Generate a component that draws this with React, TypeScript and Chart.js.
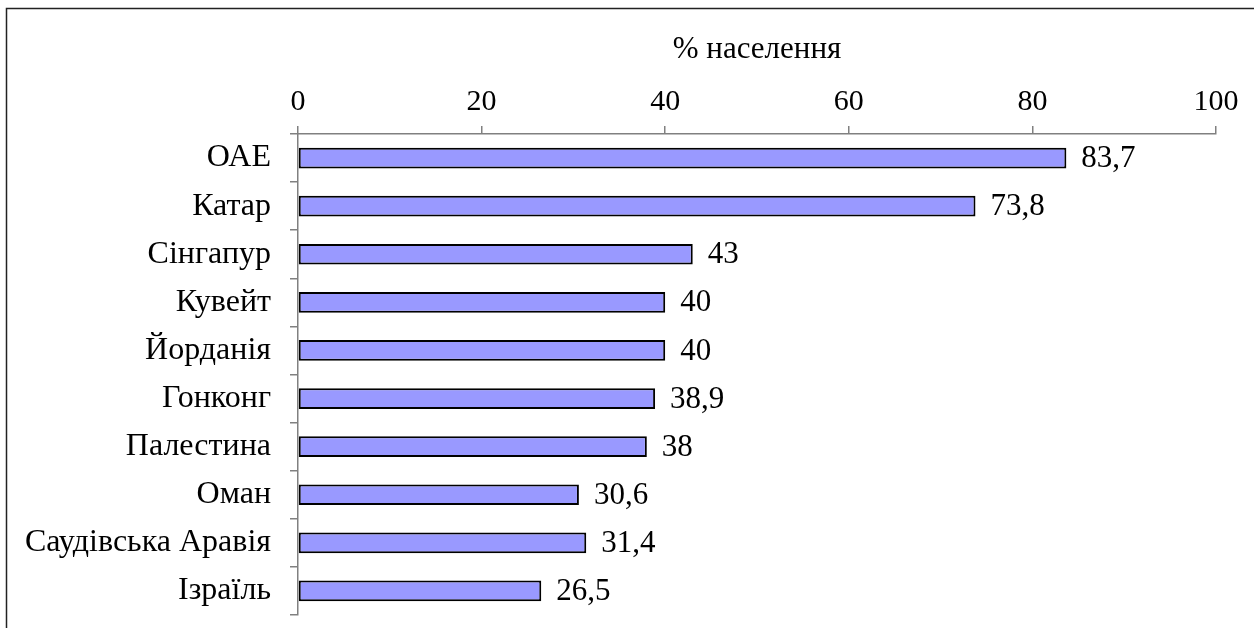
import React, { useEffect, useRef } from "react";
import { Chart, registerables } from "chart.js";

Chart.register(...registerables);

const categories = [
  "ОАЕ",
  "Катар",
  "Сінгапур",
  "Кувейт",
  "Йорданія",
  "Гонконг",
  "Палестина",
  "Оман",
  "Саудівська Аравія",
  "Ізраїль",
];
const values = [83.7, 73.8, 43, 40, 40, 38.9, 38, 30.6, 31.4, 26.5];
const axisTitle = "% населення";
const xMin = 0;
const xMax = 100;
const xStep = 20;

const FONT = "'Liberation Serif', 'Times New Roman', serif";

const framePlugin = {
  id: "frame",
  beforeDraw(chart: any) {
    const ctx = chart.ctx;
    ctx.save();
    ctx.fillStyle = "#ffffff";
    ctx.fillRect(0, 0, chart.width, chart.height);
    ctx.strokeStyle = "#222222";
    ctx.lineWidth = 1.5;
    ctx.beginPath();
    ctx.moveTo(6.5, chart.height + 2);
    ctx.lineTo(6.5, 8.5);
    ctx.lineTo(chart.width + 2, 8.5);
    ctx.stroke();
    ctx.restore();
  },
};

const valueLabelPlugin = {
  id: "valueLabels",
  afterDatasetsDraw(chart: any) {
    const ctx = chart.ctx;
    const meta = chart.getDatasetMeta(0);
    ctx.save();
    ctx.fillStyle = "#000000";
    ctx.font = `31px ${FONT}`;
    ctx.textAlign = "left";
    ctx.textBaseline = "middle";
    meta.data.forEach((bar: any, i: number) => {
      const v = chart.data.datasets[0].data[i] as number;
      const txt = String(v).replace(".", ",");
      ctx.fillText(txt, bar.x + 15, bar.y + 1);
    });
    ctx.restore();
  },
};

export default function App() {
  const canvasRef = useRef<HTMLCanvasElement | null>(null);

  useEffect(() => {
    if (!canvasRef.current) return;
    const chart = new Chart(canvasRef.current, {
      type: "bar",
      data: {
        labels: categories,
        datasets: [
          {
            data: values,
            backgroundColor: "#9999FF",
            borderColor: "#000000",
            borderWidth: 2,
            borderSkipped: false,
            categoryPercentage: 1,
            barPercentage: 0.43,
          },
        ],
      },
      options: {
        indexAxis: "y",
        responsive: false,
        animation: false,
        events: [],
        layout: { padding: { top: 0, left: 0, right: 38, bottom: 13 } },
        plugins: {
          legend: { display: false },
          title: { display: false },
          tooltip: { enabled: false },
        },
        scales: {
          x: {
            position: "top",
            min: xMin,
            max: xMax,
            afterFit(scale: any) {
              scale.height = 134;
              scale.paddingLeft = 0;
              scale.paddingRight = 0;
            },
            ticks: {
              stepSize: xStep,
              color: "#000000",
              padding: 6,
              font: { family: FONT, size: 30 },
            },
            grid: {
              drawOnChartArea: false,
              drawTicks: true,
              tickLength: 8,
              color: "#808080",
              lineWidth: 1.5,
            },
            border: { display: true, color: "#808080", width: 1.5 },
            title: {
              display: true,
              text: axisTitle,
              color: "#000000",
              font: { family: FONT, size: 31 },
              padding: { top: 31, bottom: 0 },
            },
          },
          y: {
            afterFit(scale: any) {
              scale.width = 298;
              scale.paddingTop = 0;
              scale.paddingBottom = 0;
            },
            ticks: {
              color: "#000000",
              padding: 19,
              font: { family: FONT, size: 32 },
            },
            grid: {
              offset: true,
              drawOnChartArea: false,
              drawTicks: true,
              tickLength: 8,
              color: "#808080",
              lineWidth: 1.5,
            },
            border: { display: true, color: "#808080", width: 1.5 },
          },
        },
      },
      plugins: [framePlugin, valueLabelPlugin],
    });
    return () => chart.destroy();
  }, []);

  return (
    <div style={{ position: "absolute", left: 0, top: 0, width: 1254, height: 628 }}>
      <canvas ref={canvasRef} width={1254} height={628} style={{ display: "block" }} />
    </div>
  );
}
